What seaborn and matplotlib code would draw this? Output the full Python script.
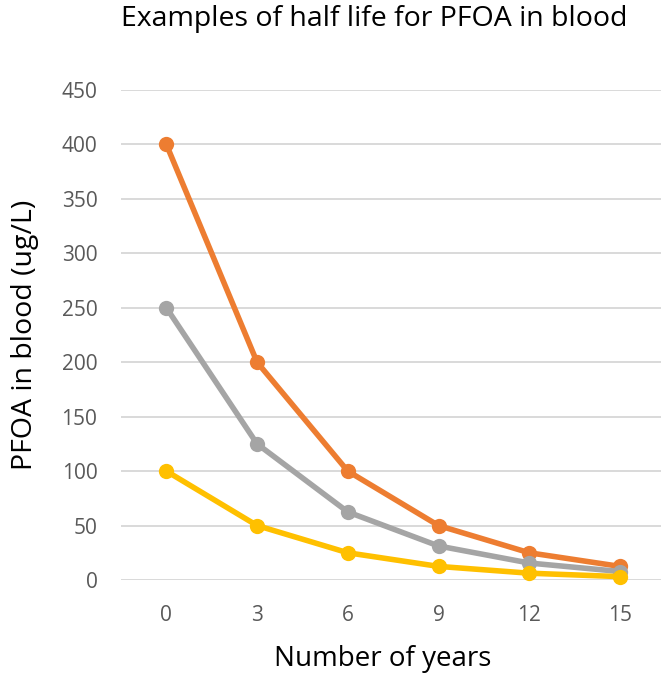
import pandas as pd
import matplotlib.pyplot as plt
import seaborn as sns

years = [0, 3, 6, 9, 12, 15]
high_start = [400, 200, 100, 50, 25, 12.5]
mid_start = [250, 125, 62.5, 31.25, 15.6, 7.8]
low_start = [100, 50, 25, 12.5, 6.25, 3.1]
y_ticks = [0, 50, 100, 150, 200, 250, 300, 350, 400, 450]

series = {'400': high_start, '250': mid_start, '100': low_start}
colors = {'400': '#ED7D31', '250': '#A5A5A5', '100': '#FFC000'}

rows = []
for name, vals in series.items():
    for i, (yr, v) in enumerate(zip(years, vals)):
        rows.append({'pos': i, 'year': yr, 'value': v, 'series': name})
df = pd.DataFrame(rows)

sns.set_style('white')
plt.rcParams['font.family'] = ['Open Sans', 'DejaVu Sans']

fig = plt.figure(figsize=(6.61, 6.74), dpi=100)
ax = fig.add_axes([121 / 661, 1 - 580 / 674, 540 / 661, 490 / 674])

sns.lineplot(data=df, x='pos', y='value', hue='series', palette=colors,
             hue_order=['400', '250', '100'], marker='o', markersize=11,
             markeredgewidth=0, linewidth=4, legend=False, ax=ax, clip_on=False)

ax.set_xlim(-0.5, 5 + 41 / 90.6)
ax.set_ylim(0, 450)
ax.set_yticks(y_ticks)
ax.set_xticks(range(len(years)))
ax.set_xticklabels([str(y) for y in years])
ax.yaxis.grid(True, color='#D9D9D9', linewidth=1.4)
ax.set_axisbelow(True)
for s in ax.spines.values():
    s.set_visible(False)
ax.tick_params(axis='both', length=0, labelsize=15, labelcolor='#595959')
ax.tick_params(axis='x', pad=18)
ax.tick_params(axis='y', pad=17)

ax.set_xlabel('Number of years', fontsize=20, color='black')
ax.xaxis.set_label_coords(0.5 + (383 - 391) / 540, -79 / 490)
ax.xaxis.label.set_va('center')
ax.set_ylabel('PFOA in blood (ug/L)', fontsize=20.5, color='black')
ax.yaxis.set_label_coords(-96 / 540, 0.5)
ax.yaxis.label.set_va('center')
fig.text(374 / 661, 1 - 19 / 674, 'Examples of half life for PFOA in blood',
         ha='center', va='center', fontsize=20.5, color='black')

fig.savefig('out.png', dpi=100)
